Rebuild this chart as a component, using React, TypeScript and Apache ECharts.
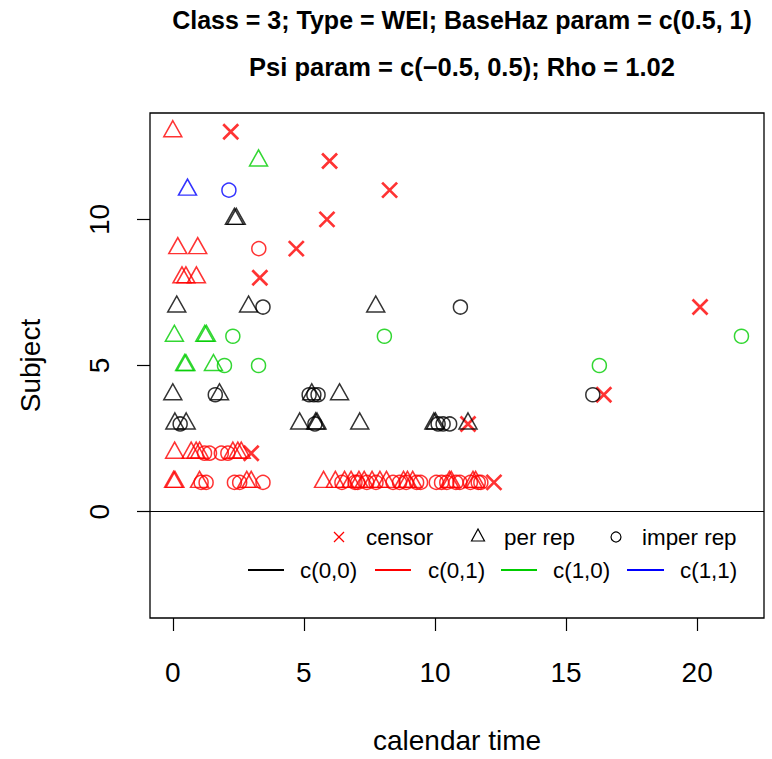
import React, { useEffect, useRef } from "react";
import * as echarts from "echarts";

// ---- data (x = calendar time, y = subject) ----
const xTicks = [0, 5, 10, 15, 20];
const yTicks = [0, 5, 10];

const censorPts = [
  [2.21, 13], [5.98, 12], [8.27, 11], [5.88, 10], [4.71, 9], [3.32, 8],
  [20.11, 7], [16.44, 4], [11.26, 3], [2.99, 2], [12.25, 1],
];

const perRepBlack = [
  [2.35, 10], [2.42, 10],
  [0.15, 7], [2.89, 7], [7.74, 7],
  [0.0, 4], [1.78, 4], [5.3, 4], [6.36, 4],
  [0.08, 3], [0.51, 3], [4.84, 3], [5.45, 3], [5.5, 3], [7.13, 3], [9.96, 3], [10.02, 3], [11.26, 3],
];
const imperRepBlack = [
  [3.44, 7], [10.97, 7],
  [1.62, 4], [5.2, 4], [5.38, 4], [5.54, 4], [16.02, 4],
  [0.28, 3], [5.42, 3], [10.12, 3], [10.31, 3], [10.56, 3],
];

const perRepRed = [
  [0.0, 13],
  [0.19, 9], [0.95, 9],
  [0.35, 8], [0.5, 8], [0.9, 8],
  [0.07, 2], [0.7, 2], [0.89, 2], [1.02, 2], [2.29, 2], [2.48, 2], [2.61, 2],
  [0.03, 1], [0.08, 1], [1.02, 1], [2.82, 1], [2.99, 1],
  [5.75, 1], [6.2, 1], [6.55, 1], [6.8, 1], [7.1, 1], [7.3, 1], [7.6, 1], [7.9, 1], [8.15, 1],
  [8.8, 1], [8.95, 1], [9.15, 1], [10.55, 1], [10.62, 1], [11.45, 1], [11.55, 1],
];
const imperRepRed = [
  [3.28, 9],
  [1.21, 2], [1.4, 2], [1.85, 2], [2.1, 2],
  [1.08, 1], [1.27, 1], [2.35, 1], [2.55, 1], [3.44, 1],
  [6.45, 1], [6.95, 1], [7.05, 1], [7.4, 1], [7.75, 1], [8.4, 1], [8.65, 1], [8.9, 1],
  [9.3, 1], [9.45, 1], [10.05, 1], [10.25, 1], [10.45, 1], [10.8, 1], [10.95, 1],
  [11.35, 1], [11.65, 1], [11.75, 1],
];

const perRepGreen = [[3.27, 12], [0.06, 6], [1.22, 6], [1.28, 6], [0.45, 5], [0.5, 5], [1.55, 5]];
const imperRepGreen = [[2.29, 6], [8.07, 6], [21.69, 6], [1.97, 5], [3.27, 5], [16.27, 5]];

const perRepBlue = [[0.56, 11]];
const imperRepBlue = [[2.14, 11]];

const titleLine1 = "Class = 3; Type = WEI; BaseHaz param = c(0.5, 1)";
const titleLine2 = "Psi param = c(\u22120.5, 0.5); Rho = 1.02";

const BLACK = "#000000";
const RED = "#FF0000";
const GREEN = "#00CD00";
const BLUE = "#0000FF";
const FONT = "'Liberation Sans', Arial, Helvetica, sans-serif";
const FS_AXIS = 28;
const FS_LEG = 22.4;

const CROSS = "path://M0,0L10,10M10,0L0,10";

function triSeries(name: string, data: number[][], color: string) {
  return {
    type: "scatter",
    name,
    data,
    symbol: "triangle",
    symbolSize: [18, 16],
    symbolOffset: [0, -3],
    itemStyle: { color: "rgba(0,0,0,0)", borderColor: color, borderWidth: 1.5 },
    emphasis: { disabled: true },
    silent: true,
  };
}
function circSeries(name: string, data: number[][], color: string) {
  return {
    type: "scatter",
    name,
    data,
    symbol: "circle",
    symbolSize: 14,
    itemStyle: { color: "rgba(0,0,0,0)", borderColor: color, borderWidth: 1.5 },
    emphasis: { disabled: true },
    silent: true,
  };
}

export default function App() {
  const ref = useRef<HTMLDivElement>(null);
  useEffect(() => {
    if (!ref.current) return;
    const chart = echarts.init(ref.current, undefined, { renderer: "svg" });

    const r1 = 537;
    const r2 = 570;
    const txt = (text: string, x: number, y: number) => ({
      type: "text",
      style: { text, x, y, fill: BLACK, fontSize: FS_LEG, fontFamily: FONT, verticalAlign: "middle", align: "left" },
    });
    const seg = (x1: number, x2: number, y: number, color: string) => ({
      type: "line",
      shape: { x1, y1: y, x2, y2: y },
      style: { stroke: color, lineWidth: 2 },
    });

    const option: any = {
      animation: false,
      backgroundColor: "#ffffff",
      title: [
        { text: titleLine1, left: 457, top: 0, textAlign: "center",
          textStyle: { fontFamily: FONT, fontSize: 25, fontWeight: "bold", color: BLACK, lineHeight: 30 } },
        { text: titleLine2, left: 457, top: 47, textAlign: "center",
          textStyle: { fontFamily: FONT, fontSize: 25.5, fontWeight: "bold", color: BLACK, lineHeight: 30 } },
      ],
      grid: {
        left: 150, right: 8, top: 113, bottom: 136,
        show: true, borderColor: BLACK, borderWidth: 1.3, backgroundColor: "transparent",
        containLabel: false,
      },
      xAxis: {
        type: "value",
        min: -0.87,
        max: 22.55,
        name: "calendar time",
        nameLocation: "middle",
        nameGap: 108,
        nameTextStyle: { fontFamily: FONT, fontSize: FS_AXIS, color: BLACK },
        axisLine: { show: false, onZero: false },
        splitLine: { show: false },
        axisTick: { show: true, length: 13, lineStyle: { color: BLACK, width: 1.2 }, customValues: xTicks },
        axisLabel: { show: true, customValues: xTicks, margin: 40, fontFamily: FONT, fontSize: FS_AXIS, color: BLACK },
      },
      yAxis: {
        type: "value",
        min: -3.64,
        max: 13.64,
        name: "Subject",
        nameLocation: "middle",
        nameGap: 106,
        nameTextStyle: { fontFamily: FONT, fontSize: FS_AXIS, color: BLACK },
        axisLine: { show: false, onZero: false },
        splitLine: { show: false },
        axisTick: { show: true, length: 13, lineStyle: { color: BLACK, width: 1.2 }, customValues: yTicks },
        axisLabel: { show: true, customValues: yTicks, rotate: 90, margin: 37, fontFamily: FONT, fontSize: FS_AXIS, color: BLACK },
      },
      series: [
        {
          type: "scatter",
          name: "censor",
          data: censorPts,
          symbol: CROSS,
          symbolSize: 15,
          itemStyle: { color: "rgba(0,0,0,0)", borderColor: RED, borderWidth: 2.7 },
          emphasis: { disabled: true },
          silent: true,
          markLine: {
            silent: true,
            symbol: ["none", "none"],
            label: { show: false },
            lineStyle: { color: BLACK, type: "solid", width: 1.2 },
            emphasis: { disabled: true },
            data: [{ yAxis: 0 }],
          },
        },
        triSeries("per rep c(0,0)", perRepBlack, BLACK),
        circSeries("imper rep c(0,0)", imperRepBlack, BLACK),
        triSeries("per rep c(0,1)", perRepRed, RED),
        circSeries("imper rep c(0,1)", imperRepRed, RED),
        triSeries("per rep c(1,0)", perRepGreen, GREEN),
        circSeries("imper rep c(1,0)", imperRepGreen, GREEN),
        triSeries("per rep c(1,1)", perRepBlue, BLUE),
        circSeries("imper rep c(1,1)", imperRepBlue, BLUE),
      ],
      graphic: [
        { type: "line", shape: { x1: 334, y1: r1 - 5, x2: 344, y2: r1 + 5 }, style: { stroke: RED, lineWidth: 1.3 } },
        { type: "line", shape: { x1: 344, y1: r1 - 5, x2: 334, y2: r1 + 5 }, style: { stroke: RED, lineWidth: 1.3 } },
        txt("censor", 366, r1),
        { type: "polygon", shape: { points: [[478, r1 - 8], [471.5, r1 + 4], [484.5, r1 + 4]] },
          style: { fill: "none", stroke: BLACK, lineWidth: 1.2 } },
        txt("per rep", 504, r1),
        { type: "circle", shape: { cx: 616, cy: r1, r: 5 }, style: { fill: "none", stroke: BLACK, lineWidth: 1.2 } },
        txt("imper rep", 642, r1),
        seg(248, 284, r2, BLACK),
        txt("c(0,0)", 300, r2),
        seg(375, 411, r2, RED),
        txt("c(0,1)", 428, r2),
        seg(501, 537, r2, GREEN),
        txt("c(1,0)", 553, r2),
        seg(627, 664, r2, BLUE),
        txt("c(1,1)", 680, r2),
      ],
    };
    chart.setOption(option);
    return () => chart.dispose();
  }, []);
  return <div ref={ref} style={{ position: "absolute", left: 0, top: 0, width: 772, height: 759 }} />;
}
